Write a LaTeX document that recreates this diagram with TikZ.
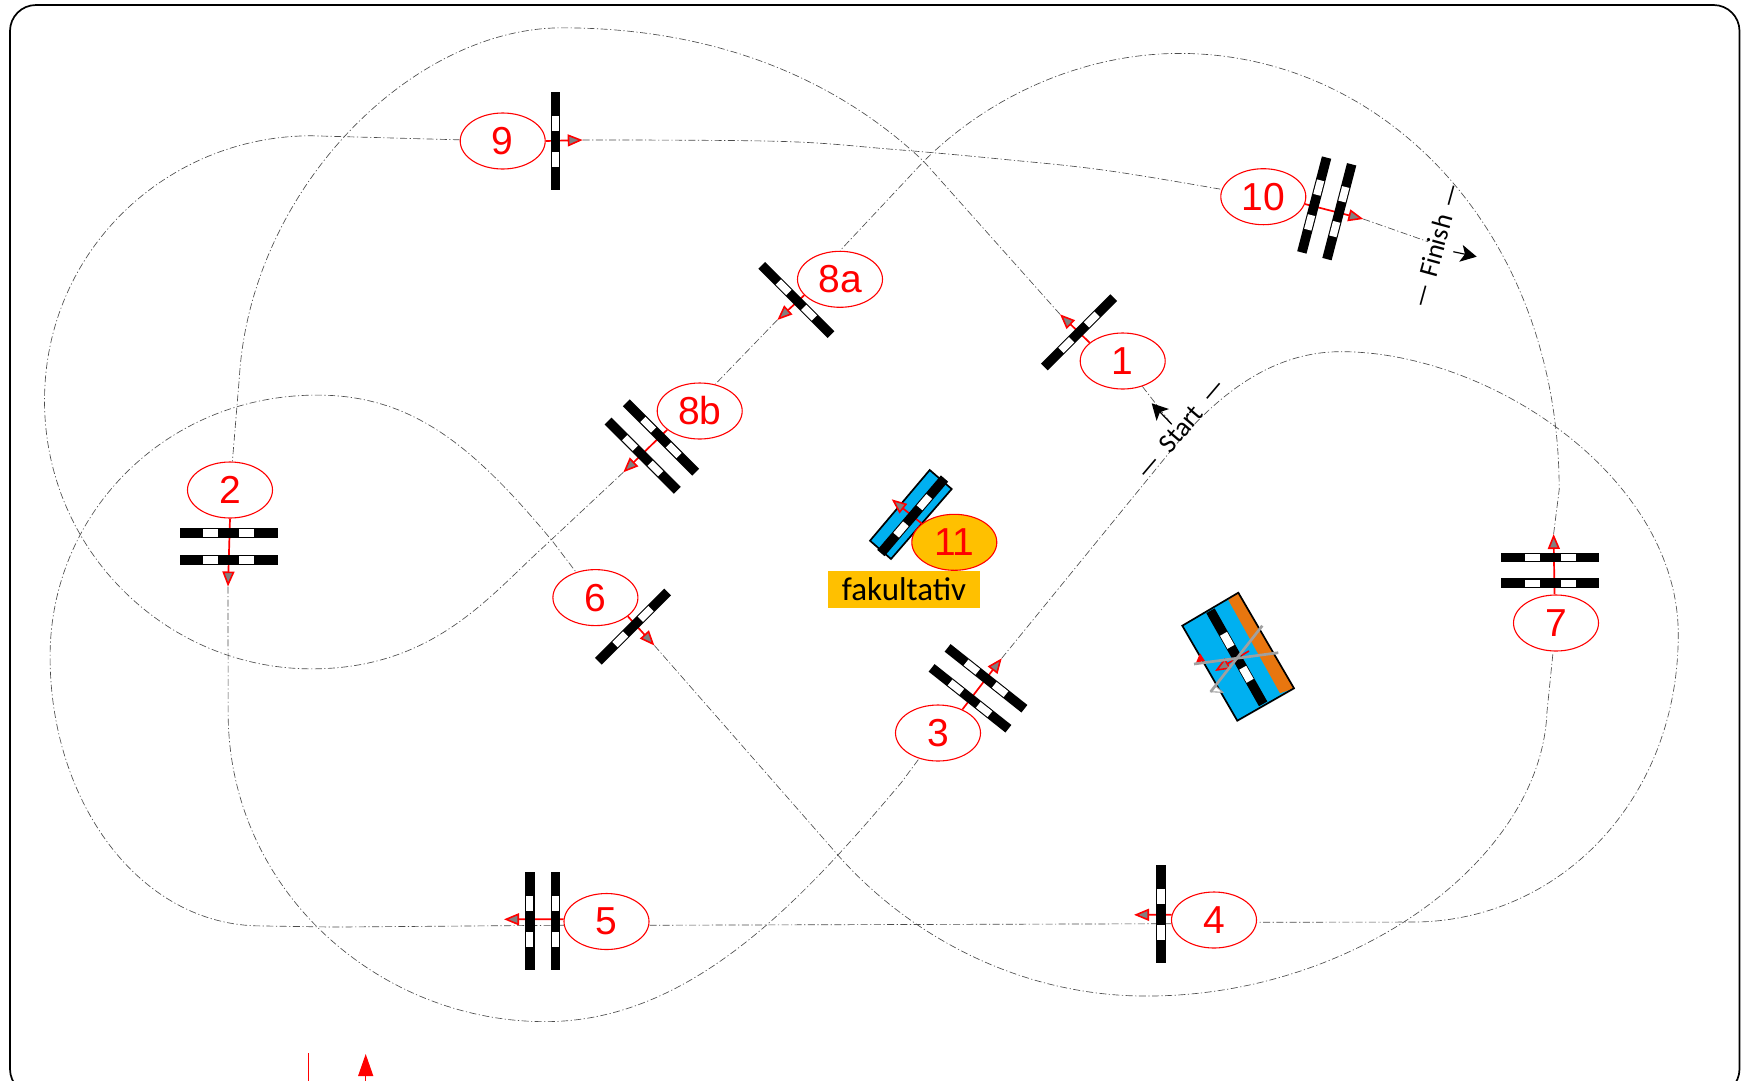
\documentclass[tikz,border=0pt]{standalone}
\usepackage{fontspec}
\setmainfont{Liberation Sans}
\newfontfamily\carlitofont{Carlito}
\usetikzlibrary{arrows.meta,shapes.geometric,backgrounds}
\definecolor{gateblue}{HTML}{00B0F0}
\definecolor{gateorange}{HTML}{E8760F}
\definecolor{optyellow}{HTML}{FFC000}
\definecolor{xgrey}{HTML}{A0A0A0}
\tikzset{
  numell/.style={ellipse,draw=red,line width=1.1pt,fill=white,minimum width=85pt,minimum height=56pt,inner sep=0pt,text=red,font=\fontsize{39}{39}\selectfont},
  track/.style={line width=0.65pt,draw=black!70,dash pattern=on 7pt off 2.5pt on 1.2pt off 2.5pt},
  smoothtrack/.style={track,smooth,tension=0.6},
  redarrow/.style={draw=red,line width=1.7pt,-{Triangle[length=15pt,width=12pt,fill=black!50,line width=1.6pt]}},
  signtext/.style={font=\carlitofont\fontsize{27}{27}\selectfont,inner sep=0pt},
  blackarrow/.style={draw=black,line width=1.2pt,-{Stealth[length=16pt,width=17pt,inset=4pt]}},
  gaterect/.style={draw=black,line width=1.7pt,line join=miter},
  pics/gatebar/.style={code={
    \fill[black] (-49,-4.8) rectangle (49,4.8);
    \fill[white] (10.5,-3.7) rectangle (25.5,3.7);
    \fill[white] (-25.5,-3.7) rectangle (-10.5,3.7);
  }},
  pics/biggatebar/.style={code={
    \fill[black] (-53.5,-4.8) rectangle (53.5,4.8);
    \fill[white] (12,-4) rectangle (27,4);
    \fill[white] (-27,-4) rectangle (-12,4);
  }}
}
\begin{document}
\begin{tikzpicture}[x=1pt,y=-1pt]
\useasboundingbox (0,0) rectangle (1745,1080);
\clip (0,0) rectangle (1745,1080);
\draw[line width=1.7pt,rounded corners=26pt] (10,5) rectangle (1739.5,1095);

% numbered ellipses
\node[numell] (e1) at (1122.7,361) {1};
\node[numell] (e2) at (230,490) {2};
\node[numell] (e3) at (938,733) {3};
\node[numell] (e4) at (1214,920) {4};
\node[numell] (e5) at (606.5,921.5) {5};
\node[numell] (e6) at (595.4,597.6) {6};
\node[numell] (e7) at (1556,623) {7};
\node[numell] (e8a) at (840,279.3) {8a};
\node[numell] (e8b) at (699.7,411) {8b};
\node[numell] (e9) at (502.7,141) {9};
\node[numell] (e10) at (1263.3,196.7) {10};
\node[numell,fill=optyellow] (e11) at (954.3,542.3) {11};
\node[fill=optyellow,minimum width=152pt,minimum height=36.7pt,inner sep=0pt,font=\carlitofont\fontsize{33}{33}\selectfont] (fak) at (904,589.3) {fakultativ};

% arrow tips
\coordinate (t1) at (1060,314.3);
\coordinate (t2) at (228,586.5);
\coordinate (t3) at (1001.7,658.3);
\coordinate (t4) at (1134,914.8);
\coordinate (t5) at (504,919.3);
\coordinate (t6) at (654.4,645.5);
\coordinate (t7) at (1553.6,534);
\coordinate (t8a) at (777.3,320);
\coordinate (t8b) at (623.3,472.3);
\coordinate (t9) at (582.7,140);
\coordinate (t10) at (1363.3,219);
\coordinate (t11) at (891.7,499.3);
\coordinate (startend) at (1171.7,424.3);
\coordinate (startbase) at (1151.7,403.3);
\coordinate (finishend) at (1428,241.7);
\coordinate (finishtail) at (1453.3,251.7);
\coordinate (finishtip) at (1476.7,256.7);

\begin{scope}[on background layer]
  \begin{scope}[x=1.1129pt,y=-1.1129pt]
    \draw[track] (t1) -- (830,145) .. controls (740,60) and (625,25) .. (505,25) .. controls (370,25) and (225,170) .. (215,340) -- (e2);
    \draw[track] (t2) -- (205,640) .. controls (205,800) and (340,918) .. (490,918) .. controls (620,918) and (720,810) .. (810,703) -- (e3);
    \draw[track] (t3) -- (1048,410) .. controls (1090,358) and (1140,316) .. (1205,316) .. controls (1340,316) and (1508,430) .. (1508,570) .. controls (1508,720) and (1400,828) .. (1270,828.5) -- (e4.-3);
    \draw[track] (e4.185) -- (e5.-5);
    \draw[track] (e5.185) -- (300,833) -- (235,832) .. controls (125,832) and (45,720) .. (45,590) .. controls (45,460) and (150,355) .. (285,355) .. controls (370,355) and (425,400) .. (497,487) -- (e6);
    \draw[track] (t6) -- (750,765) .. controls (810,835) and (910,895) .. (1030,895) .. controls (1220,895) and (1385,770) .. (1390,640) -- (e7);
    \draw[track] (t7) -- (1401,440) .. controls (1401,210) and (1245,48) .. (1060,48) .. controls (975,48) and (890,85) .. (830,145) -- (755,225) -- (e8a);
    \draw[track] (t8a) -- (e8b.60);
    \draw[track] (t8b) -- (490,490) .. controls (440,535) and (390,601) .. (280,601) .. controls (150,601) and (40,495) .. (40,360) .. controls (40,225) and (150,122) .. (280,122) -- (e9);
    \draw[smoothtrack] plot coordinates {(t9) (700,127) (800,134) (900,143) (1000,154) (e10)};
  \end{scope}
  \draw[track] (e1) -- (startend);
  \draw[track] (t10) -- (finishend);

  % coloured gate plates
  \draw[gaterect,fill=gateblue] (929.7,470) -- (951.7,489) -- (891,559) -- (870,540.7) -- cycle;
  \fill[gateblue] (1238.3,592.7) -- (1294,688.3) -- (1237.3,720.7) -- (1182.3,625.7) -- cycle;
  \fill[gateorange] (1238.3,592.7) -- (1294,688.3) -- (1280,693.3) -- (1228.3,600) -- cycle;
  \draw[gaterect] (1238.3,592.7) -- (1294,688.3) -- (1237.3,720.7) -- (1182.3,625.7) -- cycle;

  % red arrows
  \draw[redarrow] (e1.151.5) -- (t1);
  \draw[redarrow] (e2.270) -- (t2);
  \draw[redarrow] (e3.44) -- (t3);
  \draw[redarrow] (e4.173) -- (t4);
  \draw[redarrow] (e5.177) -- (t5);
  \draw[redarrow] (e6.-30.6) -- (t6);
  \draw[redarrow] (e7.93) -- (t7);
  \draw[redarrow] (e8a.204) -- (t8a);
  \draw[redarrow] (e8b.210) -- (t8b);
  \draw[redarrow] (e9.0) -- (t9);
  \draw[redarrow] (e10.-10) -- (t10);
  \draw[redarrow] (e11.150.6) -- (t11);
  \coordinate (bigtail) at (1249,651);
  \coordinate (bigtip) at (1215,671);
  \draw[redarrow] (bigtail) -- (bigtip);
\end{scope}

% gates
\pic[rotate=45] at (1079,332.3) {gatebar};
\pic[rotate=0] at (228.7,533) {gatebar};
\pic[rotate=0] at (228.7,559.8) {gatebar};
\pic[rotate=-38.4] at (986,678.3) {gatebar};
\pic[rotate=-38.4] at (970,698.3) {gatebar};
\pic[rotate=90] at (1161,914) {gatebar};
\pic[rotate=90] at (529.7,921) {gatebar};
\pic[rotate=90] at (555.3,921) {gatebar};
\pic[rotate=45] at (633,626.6) {gatebar};
\pic[rotate=0] at (1550,557.6) {gatebar};
\pic[rotate=0] at (1550,583.2) {gatebar};
\pic[rotate=-45] at (796.3,300) {gatebar};
\pic[rotate=-45] at (661,437.5) {gatebar};
\pic[rotate=-45] at (642.7,455.7) {gatebar};
\pic[rotate=90] at (555.6,141) {gatebar};
\pic[rotate=75.4] at (1314.2,205) {gatebar};
\pic[rotate=75.4] at (1339.3,211.7) {gatebar};
\pic[rotate=49.5] at (912.7,515.8) {gatebar};
\pic[rotate=-60.5] at (1236.8,657.3) {biggatebar};

% crossed-out marks on the large gate
\fill[red] (1200,653.3) -- (1196,662.7) -- (1205,661) -- cycle;
\draw[xgrey,line width=1.1pt,fill=white] (1210.7,691.7) -- (1215.7,686) -- (1222.7,692.3) -- cycle;
\draw[xgrey,line width=2.7pt] (1262.3,625.7) -- (1210.7,691.7);
\draw[xgrey,line width=2.7pt] (1194,664) -- (1278.3,652.7);

% start / finish
\node[signtext,rotate=49.6] (starttext) at (1181,428.5) {—\hspace{11pt}Start\hspace{11pt}—};
\node[signtext,rotate=74.6] (finishtext) at (1435.7,245.5) {—\hspace{8pt}Finish\hspace{8pt}—};
\draw[blackarrow] (startend) -- (startbase);
\draw[blackarrow] (finishtail) -- (finishtip);

% cut-off items at the bottom edge
\coordinate (b1a) at (308.3,1053.3);
\coordinate (b1b) at (308.3,1081);
\coordinate (b2a) at (365.7,1081);
\coordinate (b2b) at (365.7,1054);
\draw[red,line width=1.1pt] (b1a) -- (b1b);
\draw[red,line width=1.1pt,-{Triangle[length=22pt,width=15pt]}] (b2a) -- (b2b);
\end{tikzpicture}
\end{document}
